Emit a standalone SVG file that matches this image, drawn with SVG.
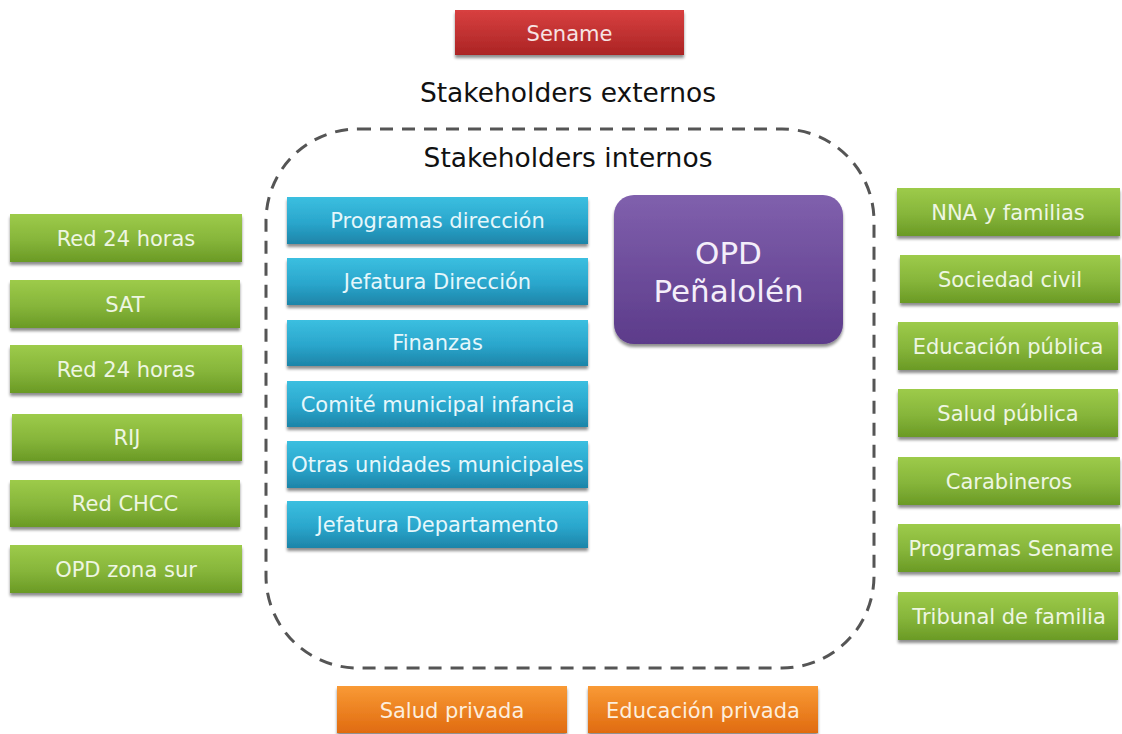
<svg xmlns="http://www.w3.org/2000/svg" width="1122" height="734" viewBox="0 0 1122 734">
  <defs>
    <linearGradient id="gGreen" x1="0" y1="0" x2="0" y2="1">
      <stop offset="0" stop-color="#9dcb4a"/>
      <stop offset="0.55" stop-color="#86b53a"/>
      <stop offset="1" stop-color="#6a9a25"/>
    </linearGradient>
    <linearGradient id="gBlue" x1="0" y1="0" x2="0" y2="1">
      <stop offset="0" stop-color="#3bbfe0"/>
      <stop offset="0.55" stop-color="#2aa6cc"/>
      <stop offset="1" stop-color="#1d84a8"/>
    </linearGradient>
    <linearGradient id="gRed" x1="0" y1="0" x2="0" y2="1">
      <stop offset="0" stop-color="#d84040"/>
      <stop offset="1" stop-color="#ab2424"/>
    </linearGradient>
    <linearGradient id="gOrange" x1="0" y1="0" x2="0" y2="1">
      <stop offset="0" stop-color="#f99a35"/>
      <stop offset="1" stop-color="#e06b10"/>
    </linearGradient>
    <linearGradient id="gPurple" x1="0" y1="0" x2="0" y2="1">
      <stop offset="0" stop-color="#8060ad"/>
      <stop offset="1" stop-color="#5c3b8a"/>
    </linearGradient>
    <filter id="shadow" x="-5%" y="-10%" width="110%" height="140%">
      <feGaussianBlur in="SourceAlpha" stdDeviation="1.5"/>
      <feOffset dx="0" dy="3" result="b"/>
      <feComponentTransfer><feFuncA type="linear" slope="0.45"/></feComponentTransfer>
      <feMerge><feMergeNode/><feMergeNode in="SourceGraphic"/></feMerge>
    </filter>
  </defs>
  <style>
    .box { filter: url(#shadow); }
    .green { fill: url(#gGreen); }
    .blue { fill: url(#gBlue); }
    .red { fill: url(#gRed); }
    .orange { fill: url(#gOrange); }
    .purple { fill: url(#gPurple); }
    .lbl { font-family: "DejaVu Sans", Verdana, sans-serif; font-size: 21px; fill: #eef6e2; text-anchor: middle; }
    .lblB { fill: #e6f7fb; }
    .lblO { fill: #fdeedd; }
    .big { font-family: "DejaVu Sans", Verdana, sans-serif; font-size: 31px; fill: #f4eefa; text-anchor: middle; }
    .title { font-family: "DejaVu Sans", Verdana, sans-serif; font-size: 26.5px; fill: #111; text-anchor: middle; }
  </style>
  <rect width="1122" height="734" fill="#ffffff"/>

  <!-- internal boundary -->
  <g id="internal-boundary">
    <rect x="266" y="129" width="608" height="539" rx="92" ry="92" fill="none" stroke="#555" stroke-width="3" stroke-dasharray="13 9"/>
  </g>

  <text class="title" x="568" y="102">Stakeholders externos</text>
  <text class="title" x="568" y="167">Stakeholders internos</text>

  <g id="sename">
    <rect class="box red" x="455" y="10" width="229" height="45"/>
    <text class="lbl" x="569.5" y="41" style="fill:#f7e3e3">Sename</text>
  </g>

  <!-- left external -->
  <g id="red24-a"><rect class="box green" x="10" y="214" width="232" height="48"/><text class="lbl" x="126" y="246">Red 24 horas</text></g>
  <g id="sat"><rect class="box green" x="10" y="280" width="230" height="48"/><text class="lbl" x="125" y="312">SAT</text></g>
  <g id="red24-b"><rect class="box green" x="10" y="345" width="232" height="48"/><text class="lbl" x="126" y="377">Red 24 horas</text></g>
  <g id="rij"><rect class="box green" x="12" y="414" width="230" height="47"/><text class="lbl" x="127" y="445">RIJ</text></g>
  <g id="red-chcc"><rect class="box green" x="10" y="480" width="230" height="47"/><text class="lbl" x="125" y="511">Red CHCC</text></g>
  <g id="opd-sur"><rect class="box green" x="10" y="545" width="232" height="48"/><text class="lbl" x="126" y="577">OPD zona sur</text></g>

  <!-- right external -->
  <g id="nna"><rect class="box green" x="897" y="188" width="223" height="48"/><text class="lbl" x="1008" y="220">NNA y familias</text></g>
  <g id="sociedad"><rect class="box green" x="900" y="255" width="220" height="48"/><text class="lbl" x="1010" y="287">Sociedad civil</text></g>
  <g id="edu-publica"><rect class="box green" x="898" y="322" width="220" height="48"/><text class="lbl" x="1008" y="354">Educación pública</text></g>
  <g id="salud-publica"><rect class="box green" x="898" y="389" width="220" height="48"/><text class="lbl" x="1008" y="421">Salud pública</text></g>
  <g id="carabineros"><rect class="box green" x="898" y="457" width="222" height="48"/><text class="lbl" x="1009" y="489">Carabineros</text></g>
  <g id="prog-sename"><rect class="box green" x="898" y="524" width="222" height="48"/><text class="lbl" x="1011" y="556">Programas Sename</text></g>
  <g id="tribunal"><rect class="box green" x="898" y="592" width="220" height="48"/><text class="lbl" x="1009" y="624">Tribunal de familia</text></g>

  <!-- internal units -->
  <g id="prog-direccion"><rect class="box blue" x="287" y="197" width="301" height="47"/><text class="lbl lblB" x="437.5" y="228">Programas dirección</text></g>
  <g id="jef-direccion"><rect class="box blue" x="287" y="258" width="301" height="47"/><text class="lbl lblB" x="437.5" y="289">Jefatura Dirección</text></g>
  <g id="finanzas"><rect class="box blue" x="287" y="320" width="301" height="46"/><text class="lbl lblB" x="437.5" y="350">Finanzas</text></g>
  <g id="comite"><rect class="box blue" x="287" y="381" width="301" height="46"/><text class="lbl lblB" x="437.5" y="412">Comité municipal infancia</text></g>
  <g id="otras"><rect class="box blue" x="287" y="441" width="301" height="47"/><text class="lbl lblB" x="437.5" y="472">Otras unidades municipales</text></g>
  <g id="jef-depto"><rect class="box blue" x="287" y="501" width="301" height="47"/><text class="lbl lblB" x="437.5" y="532">Jefatura Departamento</text></g>

  <g id="opd">
    <rect class="box purple" x="614" y="195" width="229" height="149" rx="20" ry="20"/>
    <text class="big" x="728.5" y="264">OPD</text>
    <text class="big" x="728.5" y="302">Peñalolén</text>
  </g>

  <!-- bottom external -->
  <g id="salud-privada"><rect class="box orange" x="337" y="686" width="230" height="47"/><text class="lbl lblO" x="452" y="718">Salud privada</text></g>
  <g id="edu-privada"><rect class="box orange" x="588" y="686" width="230" height="47"/><text class="lbl lblO" x="703" y="718">Educación privada</text></g>

  <g id="connectors"></g>
</svg>
